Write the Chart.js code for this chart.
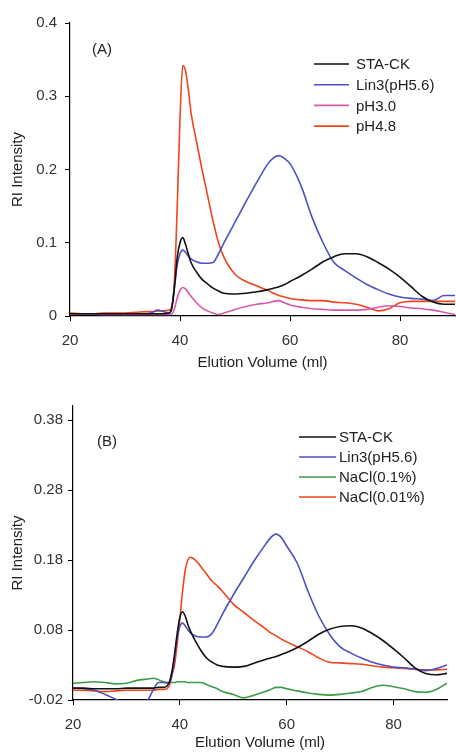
<!DOCTYPE html>
<html>
<head>
<meta charset="utf-8">
<title>RI Intensity vs Elution Volume</title>
<script src="https://cdn.jsdelivr.net/npm/chart.js@4.4.1/dist/chart.umd.min.js"></script>
<style>
  html, body { margin: 0; padding: 0; background: #fff; }
  .panel { position: absolute; left: 0; }
</style>
</head>
<body>
<canvas id="chartA" class="panel" width="456" height="378" style="top:0"></canvas>
<canvas id="chartB" class="panel" width="456" height="377" style="top:378px"></canvas>
<script>
/*##########
  Data
  ##########*/
// elution volume (ml), shared by every trace
const volume = [20, 22, 24, 26, 28, 30, 32, 34, 35, 36, 37, 38,
  38.5, 39, 39.5, 40, 40.5, 41, 41.5, 42, 43, 44, 45, 46, 47, 48,
  50, 52, 54, 56, 57, 58, 59, 60, 62, 64, 66, 68, 70, 72, 74, 76, 78, 80, 82, 84, 86, 88, 90];

const xTicks = [20, 40, 60, 80];
const yTicksA = [0, 0.1, 0.2, 0.3, 0.4];
const yTicksB = [-0.02, 0.08, 0.18, 0.28, 0.38];

// (A)
const staCkA = [.003, .003, .003, .003, .003, .003, .003, .003, .003, .003, .003, .004,
  .01, .04, .08, .1, .107, .098, .085, .073, .06, .05, .044, .038, .034, .031,
  .03, .031, .033, .036, .038, .04, .043, .047, .055, .064, .074, .081, .085, .085, .081, .073, .064, .053, .04, .027, .019, .016, .016];
const lin3A = [.003, .003, .003, .003, .003, .003, .003, .003, .005, .008, .006, .004,
  .012, .04, .07, .085, .09, .087, .082, .078, .074, .072, .072, .073, .085, .1,
  .128, .156, .183, .208, .216, .219, .215, .208, .178, .135, .1, .073, .062, .052, .043, .036, .03, .026, .024, .023, .021, .028, .028];
const pH30 = [.003, .003, .003, .002, .002, .002, .002, .002, .002, .002, .002, .002,
  .003, .01, .025, .035, .039, .037, .032, .027, .018, .011, .007, .004, .002, .004,
  .009, .013, .016, .018, .02, .021, .018, .015, .012, .01, .009, .008, .008, .008, .009, .012, .014, .013, .011, .01, .008, .005, .002];
const pH48 = [.004, .003, .003, .004, .004, .004, .005, .006, .006, .007, .007, .008,
  .012, .05, .15, .27, .342, .335, .31, .278, .238, .2, .165, .13, .1, .08,
  .057, .047, .041, .035, .031, .028, .026, .024, .022, .021, .021, .019, .018, .016, .012, .007, .01, .018, .02, .02, .02, .02, .02];

// (B)
const staCkB = [-.003, -.003, -.004, -.004, -.004, -.003, -.003, -.003, -.003, -.002, -.002, .005,
  .02, .045, .075, .098, .106, .1, .088, .078, .063, .05, .04, .034, .03, .028,
  .027, .028, .033, .038, .04, .042, .045, .048, .055, .064, .074, .081, .085, .086, .083, .075, .065, .053, .04, .026, .018, .016, .018];
const lin3B = [-.003, -.004, -.006, -.012, -.019, -.026, -.03, -.02, -.006, .005, .005, .004,
  .015, .04, .07, .085, .09, .086, .08, .076, .071, .07, .07, .075, .088, .103,
  .13, .155, .18, .202, .212, .217, .212, .2, .175, .135, .1, .074, .056, .047, .04, .034, .03, .027, .026, .024, .022, .025, .03];
const nacl01 = [.004, .005, .006, .005, .003, .004, .008, .01, .011, .009, .006, .005,
  .005, .005, .006, .006, .006, .006, .005, .005, .005, .005, .002, -.001, -.004, -.008,
  -.012, -.017, -.013, -.008, -.005, -.002, -.002, -.004, -.007, -.01, -.012, -.013, -.012, -.01, -.008, -.002, .001, -.001, -.004, -.008, -.009, -.005, .004];
const nacl001 = [-.006, -.006, -.007, -.008, -.007, -.006, -.006, -.006, -.006, -.005, -.005, .0,
  .015, .03, .06, .095, .135, .165, .18, .184, .179, .17, .16, .15, .143, .135,
  .117, .105, .093, .082, .076, .072, .067, .063, .056, .049, .04, .034, .033, .032, .031, .029, .027, .026, .025, .024, .023, .023, .024];

/*##########
  Helpers
  ##########*/
const FONT = "'Liberation Sans', Arial, sans-serif";

function pts(ys) {
  return volume.map(function(v, i) { return {x: v, y: ys[i]}; });
}

function line(label, ys, color) {
  return {
    label: label,
    data: pts(ys),
    borderColor: color,
    borderWidth: 1.6,
    pointRadius: 0,
    fill: false,
    cubicInterpolationMode: 'monotone'
  };
}

// legend + panel tag drawn by hand so they sit where the original has them
const annotate = {
  id: 'annotate',
  afterDraw: function(chart) {
    const o = chart.options.plugins.annotate;
    const ctx = chart.ctx;
    ctx.save();
    ctx.font = '15px ' + FONT;
    ctx.fillStyle = '#222';
    ctx.textBaseline = 'middle';
    ctx.fillText(o.tag, o.tagX, o.tagY);
    chart.data.datasets.forEach(function(ds, i) {
      const y = o.legY + i * o.legGap;
      ctx.strokeStyle = ds.borderColor;
      ctx.lineWidth = 1.6;
      ctx.beginPath();
      ctx.moveTo(o.legX, y);
      ctx.lineTo(o.legX + o.legLen, y);
      ctx.stroke();
      ctx.fillText(ds.label, o.legX + o.legLen + o.legTextGap, y + 1);
    });
    ctx.restore();
  }
};

function makeConfig(datasets, yTicks, p) {
  return {
    type: 'line',
    data: {datasets: datasets},
    plugins: [annotate],
    options: {
      responsive: false,
      animation: false,
      devicePixelRatio: 1,
      layout: {padding: {top: p.top, right: p.right, left: 0, bottom: 0}},
      plugins: {
        legend: {display: false},
        tooltip: {enabled: false},
        annotate: p.annotate
      },
      scales: {
        x: {
          type: 'linear',
          min: 20,
          max: 90,
          afterFit: function(s) { s.height = p.xHeight; },
          afterBuildTicks: function(s) { s.ticks = xTicks.map(function(v) { return {value: v}; }); },
          grid: {drawOnChartArea: false, color: '#000', tickLength: 5},
          border: {color: '#000', width: 1.2},
          ticks: {padding: 11, color: '#333', font: {family: FONT, size: 15}, maxRotation: 0},
          title: {display: true, text: 'Elution Volume (ml)', color: '#222',
                  font: {family: FONT, size: 15}, padding: {top: 0, bottom: p.xTitlePad}}
        },
        y: {
          min: yTicks[0] === 0 ? 0 : -0.02,
          max: 0.4,
          afterFit: function(s) { s.width = p.yWidth; },
          afterBuildTicks: function(s) { s.ticks = yTicks.map(function(v) { return {value: v}; }); },
          grid: {drawOnChartArea: false, color: '#000', tickLength: 5},
          border: {color: '#000', width: 1.2},
          ticks: {
            padding: p.yTickPad, color: '#333', font: {family: FONT, size: 15},
            callback: function(v) { return String(+v.toFixed(2)); }
          },
          title: {display: true, text: 'RI Intensity', color: '#222',
                  font: {family: FONT, size: 15}, padding: {top: 9, bottom: 0}}
        }
      }
    }
  };
}

/*##########
  Panel (A)
  ##########*/
new Chart(document.getElementById('chartA'), makeConfig([
  line('STA-CK', staCkA, '#111111'),
  line('Lin3(pH5.6)', lin3A, '#4b50c4'),
  line('pH3.0', pH30, '#d45aa8'),
  line('pH4.8', pH48, '#f0441c')
], yTicksA, {
  top: 23, right: 1, xHeight: 62, yWidth: 70, yTickPad: 8, xTitlePad: 6,
  annotate: {tag: '(A)', tagX: 92, tagY: 50, legX: 314, legY: 64, legGap: 20.7, legLen: 35, legTextGap: 7}
}));

/*##########
  Panel (B)
  ##########*/
new Chart(document.getElementById('chartB'), makeConfig([
  line('STA-CK', staCkB, '#111111'),
  line('Lin3(pH5.6)', lin3B, '#4b50c4'),
  line('NaCl(0.1%)', nacl01, '#3c9c48'),
  line('NaCl(0.01%)', nacl001, '#f0441c')
], yTicksB, {
  top: 28, right: 9, xHeight: 55, yWidth: 73, yTickPad: 5, xTitlePad: 3,
  annotate: {tag: '(B)', tagX: 97, tagY: 64, legX: 299, legY: 59, legGap: 20, legLen: 37, legTextGap: 3}
}));
</script>
</body>
</html>
